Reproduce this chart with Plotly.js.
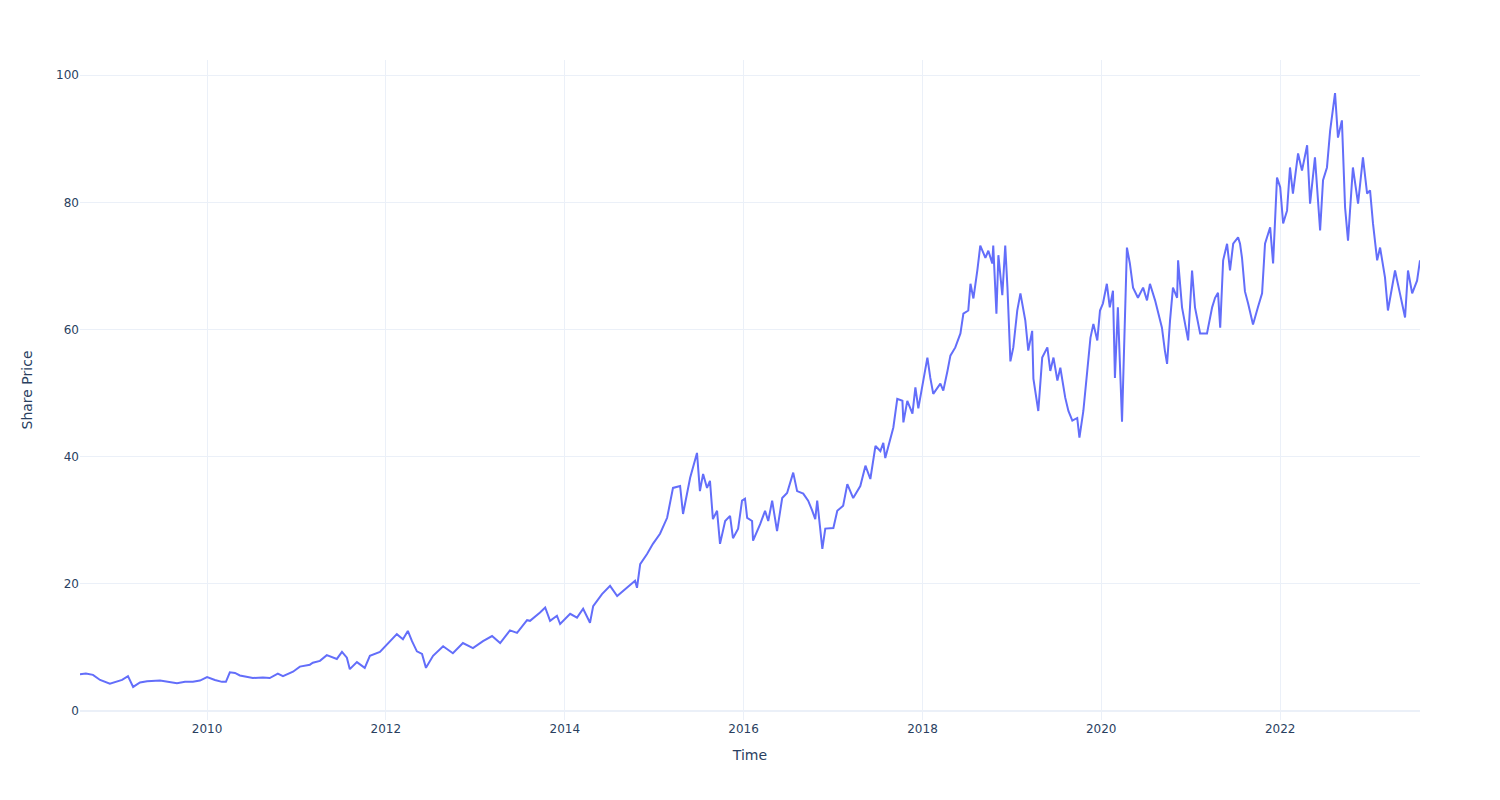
<!DOCTYPE html>
<html>
<head>
<meta charset="utf-8">
<script src="https://cdn.plot.ly/plotly-3.0.1.min.js"></script>
<style>
  html, body { margin: 0; padding: 0; background: #fff; }
  #chart { width: 1500px; height: 800px; }
</style>
</head>
<body>
<div id="chart"></div>
<script>
// time as decimal years
const years = [
  2008.580, 2008.647, 2008.725, 2008.804, 2008.915, 2008.971, 2009.050, 2009.117, 2009.173, 2009.251,
  2009.329, 2009.475, 2009.586, 2009.665, 2009.754, 2009.843, 2009.922, 2010.000, 2010.089, 2010.168,
  2010.212, 2010.257, 2010.313, 2010.369, 2010.514, 2010.626, 2010.704, 2010.794, 2010.850, 2010.962,
  2011.040, 2011.152, 2011.186, 2011.264, 2011.342, 2011.454, 2011.510, 2011.566, 2011.600, 2011.678,
  2011.767, 2011.823, 2011.935, 2012.025, 2012.125, 2012.192, 2012.248, 2012.293, 2012.349, 2012.405,
  2012.449, 2012.528, 2012.640, 2012.751, 2012.863, 2012.975, 2013.087, 2013.188, 2013.277, 2013.389,
  2013.468, 2013.579, 2013.613, 2013.725, 2013.781, 2013.837, 2013.915, 2013.949, 2014.061, 2014.139,
  2014.206, 2014.284, 2014.318, 2014.419, 2014.508, 2014.587, 2014.698, 2014.788, 2014.810, 2014.844,
  2014.922, 2014.989, 2015.068, 2015.146, 2015.213, 2015.291, 2015.325, 2015.403, 2015.481, 2015.515,
  2015.549, 2015.593, 2015.627, 2015.660, 2015.705, 2015.739, 2015.795, 2015.851, 2015.884, 2015.940,
  2015.985, 2016.019, 2016.041, 2016.097, 2016.108, 2016.187, 2016.242, 2016.276, 2016.321, 2016.377,
  2016.433, 2016.489, 2016.556, 2016.601, 2016.668, 2016.724, 2016.769, 2016.802, 2016.825, 2016.881,
  2016.914, 2017.004, 2017.048, 2017.115, 2017.160, 2017.227, 2017.306, 2017.362, 2017.418, 2017.474,
  2017.530, 2017.563, 2017.586, 2017.675, 2017.720, 2017.776, 2017.787, 2017.832, 2017.888, 2017.922,
  2017.955, 2018.000, 2018.056, 2018.089, 2018.123, 2018.201, 2018.235, 2018.280, 2018.313, 2018.369,
  2018.425, 2018.459, 2018.515, 2018.537, 2018.570, 2018.615, 2018.649, 2018.705, 2018.738, 2018.783,
  2018.794, 2018.828, 2018.850, 2018.895, 2018.928, 2018.951, 2018.984, 2019.018, 2019.063, 2019.096,
  2019.130, 2019.152, 2019.186, 2019.230, 2019.242, 2019.298, 2019.342, 2019.398, 2019.432, 2019.466,
  2019.510, 2019.544, 2019.600, 2019.634, 2019.678, 2019.734, 2019.757, 2019.802, 2019.846, 2019.880,
  2019.913, 2019.958, 2019.987, 2020.020, 2020.065, 2020.098, 2020.132, 2020.154, 2020.188, 2020.233,
  2020.266, 2020.289, 2020.322, 2020.356, 2020.412, 2020.468, 2020.512, 2020.546, 2020.602, 2020.635,
  2020.680, 2020.713, 2020.736, 2020.769, 2020.803, 2020.848, 2020.859, 2020.904, 2020.937, 2020.971,
  2021.016, 2021.049, 2021.105, 2021.183, 2021.239, 2021.273, 2021.306, 2021.329, 2021.362, 2021.407,
  2021.440, 2021.474, 2021.530, 2021.552, 2021.574, 2021.608, 2021.642, 2021.697, 2021.753, 2021.798,
  2021.832, 2021.888, 2021.921, 2021.944, 2021.966, 2022.000, 2022.034, 2022.078, 2022.112, 2022.145,
  2022.201, 2022.246, 2022.302, 2022.335, 2022.391, 2022.447, 2022.481, 2022.526, 2022.559, 2022.615,
  2022.649, 2022.693, 2022.727, 2022.760, 2022.816, 2022.872, 2022.928, 2022.973, 2023.006, 2023.040,
  2023.085, 2023.118, 2023.174, 2023.208, 2023.286, 2023.342, 2023.398, 2023.432, 2023.477, 2023.533,
  2023.566,
];

const price = [
  5.8, 5.9, 5.7, 4.9, 4.3, 4.6, 4.9, 5.5, 3.8, 4.5,
  4.7, 4.8, 4.6, 4.4, 4.6, 4.6, 4.8, 5.35, 4.9, 4.6,
  4.6, 6.1, 6.0, 5.6, 5.2, 5.3, 5.2, 5.9, 5.5, 6.2,
  7.0, 7.3, 7.6, 7.9, 8.8, 8.2, 9.3, 8.4, 6.6, 7.7,
  6.8, 8.7, 9.3, 10.7, 12.1, 11.3, 12.6, 11.0, 9.4, 9.0,
  6.8, 8.7, 10.2, 9.1, 10.7, 9.9, 11.0, 11.8, 10.7, 12.7,
  12.3, 14.3, 14.2, 15.5, 16.3, 14.2, 15.0, 13.7, 15.3, 14.7,
  16.1, 13.9, 16.5, 18.4, 19.7, 18.1, 19.4, 20.5, 19.4, 23.1,
  24.7, 26.3, 27.9, 30.4, 35.1, 35.4, 31.0, 36.7, 40.6, 34.6,
  37.3, 35.1, 36.2, 30.2, 31.5, 26.3, 29.9, 30.7, 27.2, 28.7,
  33.1, 33.4, 30.4, 29.9, 26.8, 29.4, 31.5, 29.9, 33.1, 28.3,
  33.5, 34.3, 37.5, 34.6, 34.2, 33.1, 31.5, 30.2, 33.1, 25.5,
  28.7, 28.8, 31.5, 32.3, 35.7, 33.5, 35.4, 38.6, 36.5, 41.7,
  40.9, 42.2, 39.8, 44.6, 49.1, 48.8, 45.4, 48.8, 46.8, 50.9,
  47.6, 51.5, 55.6, 52.4, 49.9, 51.5, 50.4, 53.5, 55.9, 57.2,
  59.4, 62.5, 63.0, 67.2, 64.9, 69.3, 73.2, 71.3, 72.4, 70.4,
  73.2, 62.5, 71.7, 65.4, 73.2, 66.6, 55.0, 57.2, 63.0, 65.7,
  63.0, 61.4, 56.7, 59.8, 52.3, 47.2, 55.6, 57.2, 53.5, 55.6,
  52.0, 54.0, 49.3, 47.2, 45.7, 46.1, 43.0, 47.2, 53.5, 58.7,
  60.9, 58.3, 63.0, 64.1, 67.2, 63.5, 66.1, 52.4, 63.5, 45.5,
  62.0, 72.9, 70.4, 66.6, 65.0, 66.6, 64.6, 67.2, 64.6, 62.7,
  60.3, 56.7, 54.6, 61.4, 66.6, 65.0, 70.9, 63.5, 60.9, 58.3,
  69.3, 63.5, 59.4, 59.4, 63.5, 65.0, 65.8, 60.3, 70.9, 73.5,
  69.3, 73.5, 74.5, 73.5, 71.3, 66.0, 64.1, 60.8, 63.5, 65.7,
  73.5, 76.1, 70.4, 78.3, 83.9, 82.4, 76.7, 78.7, 85.5, 81.4,
  87.7, 85.0, 89.0, 79.8, 87.1, 75.6, 83.5, 85.5, 91.3, 97.2,
  90.2, 92.9, 79.2, 74.0, 85.5, 79.8, 87.1, 81.4, 81.9, 76.7,
  70.9, 72.9, 68.2, 63.0, 69.3, 65.7, 61.9, 69.3, 65.7, 67.7,
  70.9,
];

function yearToDate(y) {
  const yr = Math.floor(y);
  const start = Date.UTC(yr, 0, 1);
  const end = Date.UTC(yr + 1, 0, 1);
  return new Date(start + (y - yr) * (end - start)).toISOString().slice(0, 10);
}

const dates = years.map(yearToDate);

Plotly.newPlot(
  "chart",
  [
    {
      type: "scatter",
      mode: "lines",
      x: dates,
      y: price,
      line: { color: "#636efa", width: 2 },
      name: "Share Price",
    },
  ],
  {
    template: "plotly_white",
    width: 1500,
    height: 800,
    margin: { l: 80, r: 80, t: 60, b: 80 },
    paper_bgcolor: "#fff",
    plot_bgcolor: "#fff",
    font: { family: "DejaVu Sans, sans-serif", size: 12, color: "#2a3f5f" },
    showlegend: false,
    xaxis: {
      title: { text: "Time", standoff: 15 },
      gridcolor: "#EBF0F8",
      zeroline: false,
      showline: false,
      ticks: "",
    },
    yaxis: {
      title: { text: "Share Price", standoff: 20 },
      range: [-1.4, 102.4],
      gridcolor: "#EBF0F8",
      zeroline: true,
      zerolinecolor: "#EBF0F8",
      zerolinewidth: 2,
      dtick: 20,
      ticks: "",
    },
  },
  { displayModeBar: false },
);
</script>
</body>
</html>
